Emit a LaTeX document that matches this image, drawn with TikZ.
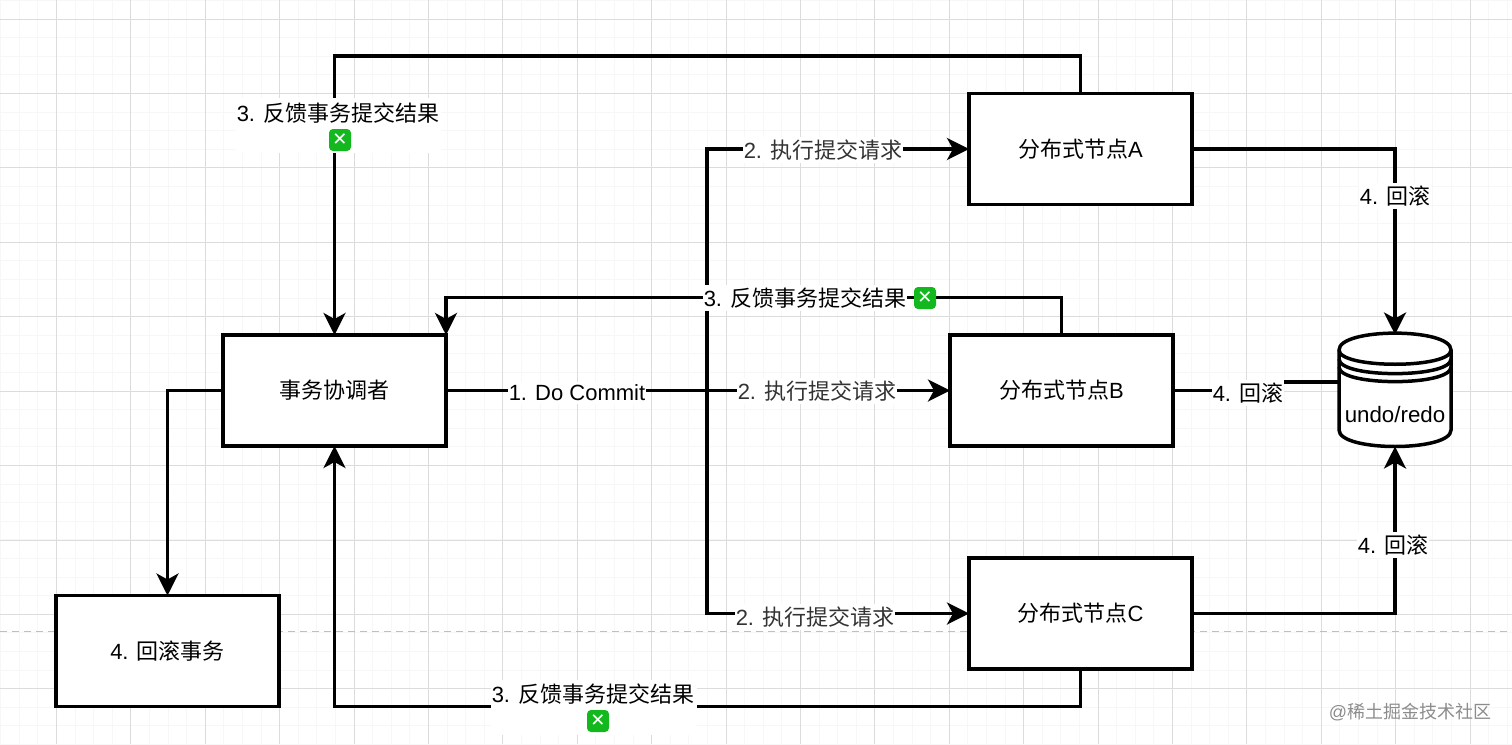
\documentclass[tikz,border=0pt]{standalone}
\usepackage{fontspec}
\setmainfont{Liberation Sans}
\newfontfamily\cjk{Noto Sans CJK SC}
\newfontfamily\symb{DejaVu Sans}
\usetikzlibrary{arrows.meta}
\definecolor{gridmajor}{HTML}{DCDCDC}
\definecolor{gridminor}{HTML}{F7F7F7}
\definecolor{emojigreen}{HTML}{12B81E}
\tikzset{
  boxnode/.style={draw=black,line width=3.5pt,fill=white,minimum width=223pt,minimum height=111pt,inner sep=0pt,outer sep=0pt,font=\fontsize{22}{26}\selectfont},
  flow/.style={draw=black,line width=3.5pt,-{Stealth[length=22pt,width=22pt,inset=6pt]}},
  flowplain/.style={draw=black,line width=3.5pt},
  lbl/.style={fill=white,text=black,inner xsep=1pt,inner ysep=3pt,font=\fontsize{22}{26}\selectfont},
  lblgray/.style={lbl,text=black!80},
  emojibox/.style={fill=emojigreen,rounded corners=4pt,minimum size=22pt,inner sep=0pt,text=white,font=\symb\bfseries\fontsize{18}{18}\selectfont},
}
\begin{document}
\begin{tikzpicture}[x=1pt,y=-1pt]
\useasboundingbox (0,0) rectangle (1512,744);
\fill[white] (0,0) rectangle (1512,744);
% grid
\foreach \i in {-3,...,81}{
  \draw[gridminor,line width=1pt] ({56.5+18.6*\i},0) -- ({56.5+18.6*\i},744);
}
\foreach \i in {-1,...,40}{
  \draw[gridminor,line width=1pt] (0,{19+18.6*\i}) -- (1512,{19+18.6*\i});
}
\foreach \i in {0,...,19}{
  \draw[gridmajor,line width=1pt] ({56.5+74.4*\i},0) -- ({56.5+74.4*\i},744);
}
\foreach \i in {0,...,9}{
  \draw[gridmajor,line width=1pt] (0,{19+74.43*\i}) -- (1512,{19+74.43*\i});
}
\draw[black!25,line width=1pt,dash pattern=on 7pt off 5pt] (0,631) -- (1512,631);
% nodes
\node[boxnode] (coord) at (334.5,390.5) {{\cjk 事务协调者}};
\node[boxnode] (rollback) at (167.5,651) {4. {\cjk 回滚事务}};
\node[boxnode] (nodeA) at (1080.5,149) {{\cjk 分布式节点}A};
\node[boxnode] (nodeB) at (1061.5,390.5) {{\cjk 分布式节点}B};
\node[boxnode] (nodeC) at (1080.5,613.5) {{\cjk 分布式节点}C};
\node[minimum width=112pt,minimum height=112pt,inner sep=0pt,outer sep=0pt] (db) at (1395,390.5) {};
\coordinate (dbleft) at (1339,382);
\coordinate (branch) at (707,391);
% cylinder
\draw[line width=3.5pt,fill=white] (1339,350) .. controls (1339,327.5) and (1451,327.5) .. (1451,350)
  -- (1451,430) .. controls (1451,452) and (1339,452) .. (1339,430) -- cycle;
\draw[line width=3.5pt] (1339,350) .. controls (1339,369) and (1451,369) .. (1451,350);
\draw[line width=3.5pt] (1339,359) .. controls (1339,378.5) and (1451,378.5) .. (1451,359);
\draw[line width=3.5pt] (1339,367) .. controls (1339,386.5) and (1451,386.5) .. (1451,367);
\node[font=\fontsize{22.3}{26}\selectfont,inner sep=0pt] (dbtext) at (1395,415) {undo/redo};
% connectors
\draw[flow] (nodeA.north) -- ++(0,-37.5) -| (coord.north);
\draw[flow] (nodeA.east) -| (db.north);
\draw[flow] (nodeB.north) -- ++(0,-37.5) -| ([xshift=111.5pt]coord.north);
\draw[flow] (coord.east) -- (nodeB.west);
\draw[flow] (branch) |- (nodeA.west);
\draw[flow] (branch) |- (nodeC.west);
\draw[flowplain] (nodeB.east) -- ++(83,0) |- (dbleft);
\draw[flow] (nodeC.east) -| (db.south);
\draw[flow] (nodeC.south) -- ++(0,37.5) -| (coord.south);
\draw[flow] (coord.west) -| (rollback.north);
% labels
\fill[white] (236,98) rectangle (441,153);
\node[lbl] (l3a) at (338,113) {3. {\cjk 反馈事务提交结果}};
\node[emojibox] (x3a) at (340,140) {✕};
\fill[white] (491,680) rectangle (697,735);
\node[lbl] (l3c) at (593,694) {3. {\cjk 反馈事务提交结果}};
\node[emojibox] (x3c) at (598,721) {✕};
\node[lbl] (l3b) at (805,298) {3. {\cjk 反馈事务提交结果}};
\node[emojibox] (x3b) at (925,298) {✕};
\node[lbl] (l1) at (577,393) {1. Do Commit};
\node[lblgray] (l2b) at (817,391) {2. {\cjk 执行提交请求}};
\node[lblgray] (l2a) at (823,150) {2. {\cjk 执行提交请求}};
\node[lblgray] (l2c) at (815,617) {2. {\cjk 执行提交请求}};
\node[lbl] (l4a) at (1395,196) {4. {\cjk 回滚}};
\node[lbl] (l4b) at (1248,393) {4. {\cjk 回滚}};
\node[lbl] (l4c) at (1393,545) {4. {\cjk 回滚}};
\node[text=black!45,font=\fontsize{18}{22}\selectfont,inner sep=0pt] (mark) at (1410,712) {@{\cjk 稀土掘金技术社区}};
\end{tikzpicture}
\end{document}
